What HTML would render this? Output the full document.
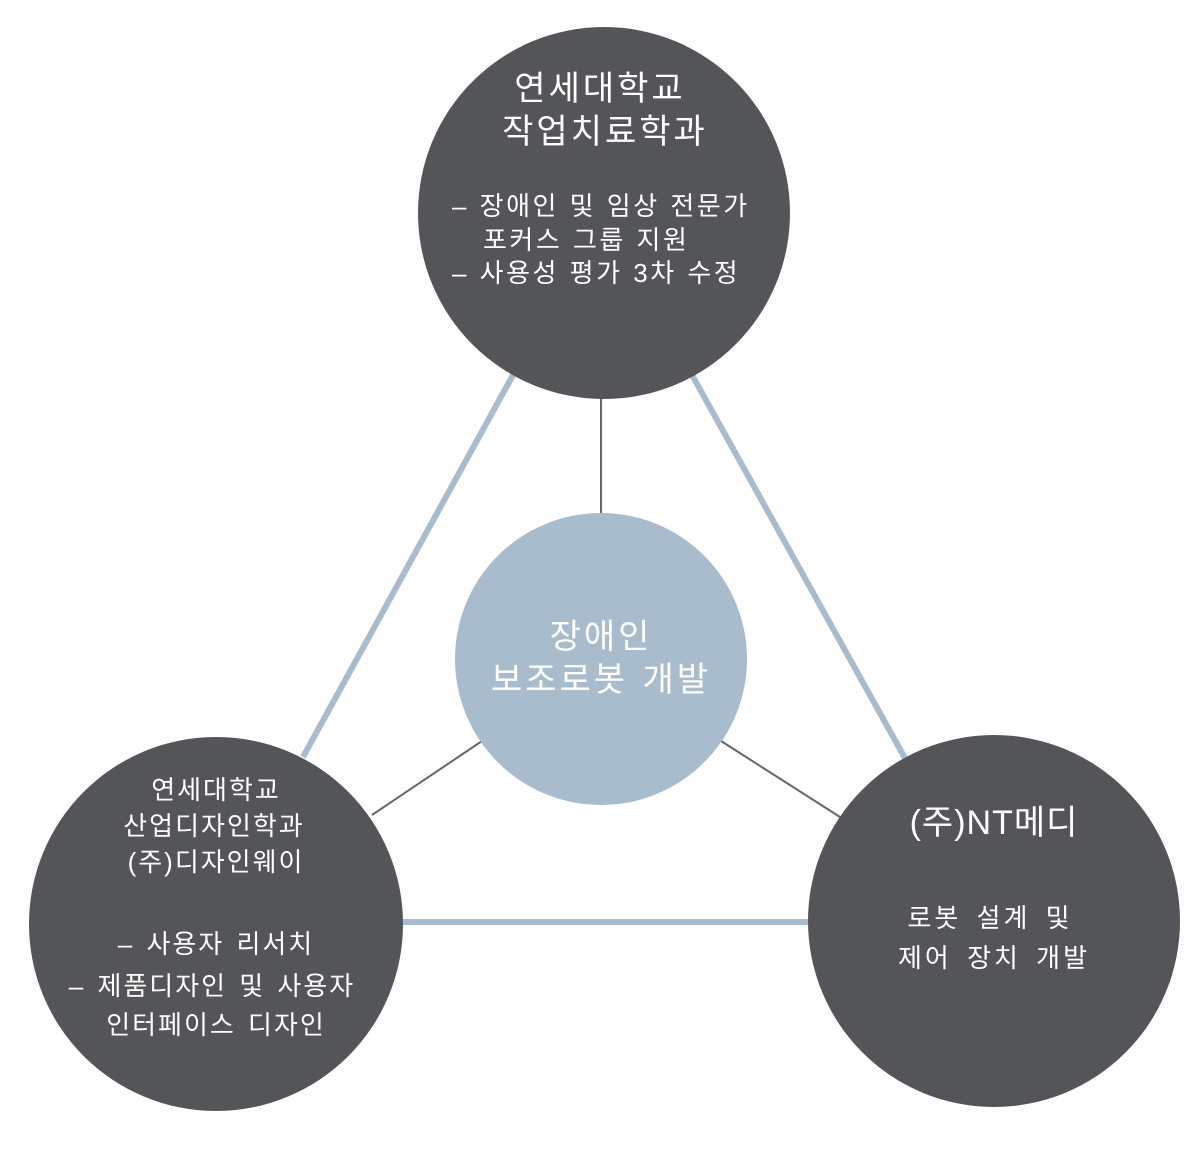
<!DOCTYPE html>
<html><head><meta charset="utf-8"><style>
html,body{margin:0;padding:0;background:#fff;}
svg{display:block;}
text{font-family:"Liberation Sans","Noto Sans CJK KR",sans-serif;fill:#fff;}
</style></head><body>
<svg width="1200" height="1150" viewBox="0 0 1200 1150" xmlns="http://www.w3.org/2000/svg">
<g stroke="#a9bccd" stroke-width="6">
<line x1="513" y1="375" x2="303" y2="757"/>
<line x1="692" y1="375" x2="906" y2="760"/>
<line x1="400" y1="922" x2="810" y2="922"/>
</g>
<g stroke="#666" stroke-width="2">
<line x1="601" y1="396" x2="601" y2="515"/>
<line x1="372" y1="815" x2="482" y2="741"/>
<line x1="721" y1="741" x2="840" y2="817"/>
</g>
<circle cx="604" cy="213" r="186" fill="#545558"/>
<circle cx="601" cy="659" r="146" fill="#a9bccd"/>
<circle cx="216" cy="924" r="187" fill="#545558"/>
<circle cx="994" cy="921" r="186" fill="#545558"/>

<g font-size="34" text-anchor="middle" letter-spacing="3" word-spacing="2">
<text x="600" y="100">연세대학교</text>
<text x="605" y="143">작업치료학과</text>
<text x="601" y="648">장애인</text>
<text x="601" y="691">보조로봇 개발</text>
<text x="994" y="834" letter-spacing="1">(주)NT메디</text>
</g>
<g font-size="26" letter-spacing="2.5" word-spacing="1">
<text x="452" y="215">– 장애인 및 임상 전문가</text>
<text x="483" y="249">포커스 그룹 지원</text>
<text x="452" y="282">– 사용성 평가 3차 수정</text>
</g>
<g font-size="26" text-anchor="middle" letter-spacing="2" word-spacing="3">
<text x="216" y="799">연세대학교</text>
<text x="214" y="835">산업디자인학과</text>
<text x="216" y="871">(주)디자인웨이</text>
<text x="216" y="953">– 사용자 리서치</text>
<text x="212" y="995">– 제품디자인 및 사용자</text>
<text x="216" y="1034">인터페이스 디자인</text>
<text x="990" y="927" letter-spacing="3" word-spacing="5">로봇 설계 및</text>
<text x="994" y="967" letter-spacing="3" word-spacing="5">제어 장치 개발</text>
</g>
</svg>
</body></html>
